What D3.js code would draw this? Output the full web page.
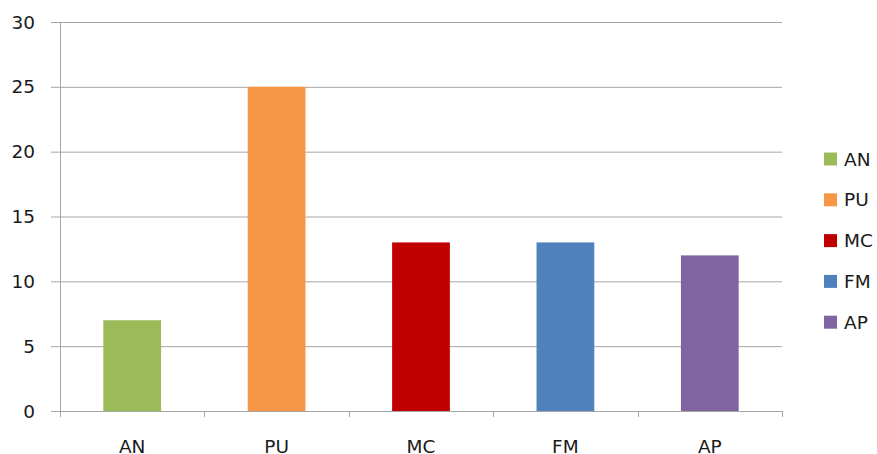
<!DOCTYPE html>
<html>
<head>
<meta charset="utf-8">
<script src="https://cdn.jsdelivr.net/npm/d3@7"></script>
<style>
  html, body { margin: 0; padding: 0; background: #fff; }
  svg text { font-family: "DejaVu Sans", sans-serif; fill: #1a1a1a; }
</style>
</head>
<body>
<svg id="chart" width="877" height="454"></svg>
<script>
// Category names and their counts
const categories = ["AN", "PU", "MC", "FM", "AP"];
const values = [7, 25, 13, 13, 12];
const colors = ["#9BBB59", "#F79646", "#C00000", "#4F81BD", "#8064A2"];
const yTicks = [0, 5, 10, 15, 20, 25, 30];

const svg = d3.select("#chart");
const plot = { left: 60, right: 782, top: 22, bottom: 411 };
const gridColor = "#a6a6a6";
const fontSize = "18.5px";

const x = d3.scaleBand()
  .domain(categories)
  .range([plot.left, plot.right])
  .paddingInner(0.6)
  .paddingOuter(0.3);

const y = d3.scaleLinear()
  .domain([0, 30])
  .range([plot.bottom, plot.top]);

// Horizontal gridlines with short ticks left of the axis
svg.append("g")
  .selectAll("line")
  .data(yTicks)
  .join("line")
  .attr("x1", plot.left - 9)
  .attr("x2", plot.right)
  .attr("y1", d => y(d) + 0.5)
  .attr("y2", d => y(d) + 0.5)
  .attr("stroke", gridColor)
  .attr("stroke-width", 1);

// Y tick labels
svg.append("g")
  .selectAll("text")
  .data(yTicks)
  .join("text")
  .attr("x", 35)
  .attr("y", d => y(d))
  .attr("dy", "0.36em")
  .attr("text-anchor", "end")
  .style("font-size", fontSize)
  .text(d => d);

// Bars
svg.append("g")
  .selectAll("rect")
  .data(categories)
  .join("rect")
  .attr("x", d => x(d))
  .attr("width", x.bandwidth())
  .attr("y", (d, i) => y(values[i]))
  .attr("height", (d, i) => y(0) - y(values[i]))
  .attr("fill", (d, i) => colors[i]);

// Vertical axis line
svg.append("line")
  .attr("x1", plot.left + 0.5).attr("x2", plot.left + 0.5)
  .attr("y1", plot.top).attr("y2", plot.bottom)
  .attr("stroke", gridColor);

// Category boundary ticks below the baseline
const step = x.step();
const boundaries = d3.range(categories.length + 1).map(i => plot.left + i * step);
svg.append("g")
  .selectAll("line")
  .data(boundaries)
  .join("line")
  .attr("x1", d => Math.round(d) + 0.5)
  .attr("x2", d => Math.round(d) + 0.5)
  .attr("y1", plot.bottom)
  .attr("y2", plot.bottom + 6)
  .attr("stroke", gridColor);

// Category labels
svg.append("g")
  .selectAll("text")
  .data(categories)
  .join("text")
  .attr("x", d => x(d) + x.bandwidth() / 2)
  .attr("y", 453)
  .attr("text-anchor", "middle")
  .style("font-size", fontSize)
  .text(d => d);

// Legend
const legend = svg.append("g")
  .selectAll("g")
  .data(categories)
  .join("g")
  .attr("transform", (d, i) => `translate(824, ${159 + i * 40.8})`);

legend.append("rect")
  .attr("x", 0).attr("y", -6.5)
  .attr("width", 13).attr("height", 13)
  .attr("fill", (d, i) => colors[i]);

legend.append("text")
  .attr("x", 20)
  .attr("y", 0)
  .attr("dy", "0.36em")
  .style("font-size", fontSize)
  .text(d => d);
</script>
</body>
</html>
